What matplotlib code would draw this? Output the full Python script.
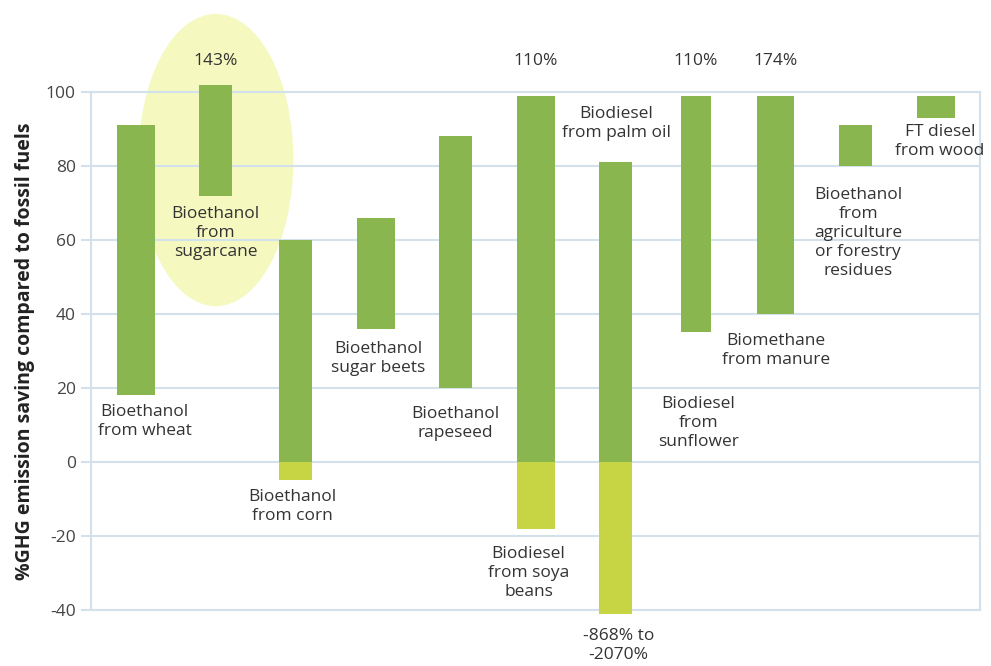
import matplotlib.pyplot as plt
from matplotlib.patches import Ellipse

plt.rcParams['font.family'] = ['Open Sans', 'DejaVu Sans']
plt.rcParams['axes.unicode_minus'] = False

# Ranges of GHG savings per pathway (green part above 0, yellow part below 0)
names = ["Bioethanol\nfrom wheat", "Bioethanol\nfrom\nsugarcane", "Bioethanol\nfrom corn",
         "Bioethanol\nsugar beets", "Bioethanol\nrapeseed", "Biodiesel\nfrom soya\nbeans",
         "Biodiesel\nfrom palm oil", "Biodiesel\nfrom\nsunflower", "Biomethane\nfrom manure",
         "Bioethanol\nfrom\nagriculture\nor forestry\nresidues", "FT diesel\nfrom wood"]
low = [18, 72, 0, 36, 20, 0, 0, 35, 40, 80, 93]
high = [91, 102, 60, 66, 88, 99, 81, 99, 99, 91, 99]
neg_low = [0, 0, -5, 0, 0, -18, -41, 0, 0, 0, 0]
widths = [0.47, 0.41, 0.41, 0.47, 0.41, 0.47, 0.41, 0.38, 0.46, 0.41, 0.47]

# values going past the chart edges
top_notes = {1: "143%", 5: "110%", 7: "110%", 8: "174%"}
bottom_note = (6, "-868% to\n-2070%")

# label anchor points (x, y) in data units
label_pos = [(0.11, 11), (1.0, 62), (1.96, -12), (3.03, 28), (3.99, 10.5), (4.91, -30),
             (6.01, 91.6), (7.03, 10.5), (8.0, 30), (9.03, 62), (10.05, 86.5)]

green = '#8ab64f'
yellow = '#c7d444'
grid_c = '#d3e1ec'
txt_c = '#333333'

fig = plt.figure(figsize=(9.91, 6.66), dpi=100)
ax = fig.add_axes([0.0918, 0.0841, 0.897, 0.7778])

x = list(range(len(names)))

ax.add_patch(Ellipse((1.0, 81.6), 1.94, 79, facecolor='#f5f9c0', edgecolor='none',
                     clip_on=False, zorder=0))

bars = ax.bar(x, [h - l for h, l in zip(high, low)], bottom=low, width=widths, color=green, zorder=3)
negs = ax.bar(x, [-n for n in neg_low], bottom=neg_low, width=widths, color=yellow, zorder=3)
for b in list(bars) + list(negs):
    b.set_clip_on(False)

for (lx, ly), name in zip(label_pos, names):
    ax.text(lx, ly, name, ha='center', va='center', fontsize=12.5, color=txt_c,
            linespacing=1.25, zorder=4)
for i, t in top_notes.items():
    ax.text(i, 108.4, t, ha='center', va='center', fontsize=12.5, color=txt_c, clip_on=False)
ax.text(bottom_note[0] + 0.03, -49.7, bottom_note[1], ha='center', va='center',
        fontsize=12.5, color=txt_c, linespacing=1.25, clip_on=False)

ax.set_xlim(-0.56, 10.55)
ax.set_ylim(-40, 100)
ax.set_yticks(range(-40, 101, 20))
ax.set_xticks([])
ax.yaxis.grid(True, color=grid_c, linewidth=1.5, zorder=1)
ax.set_axisbelow(True)
for s in ax.spines.values():
    s.set_color(grid_c)
    s.set_linewidth(1.5)
ax.tick_params(axis='y', length=7, width=1.5, color=grid_c, labelsize=12.5,
               labelcolor='#444444', pad=4)
ax.set_ylabel("%GHG emission saving compared to fossil fuels", fontsize=14,
              fontweight='bold', color='#222222', labelpad=8)

fig.savefig('out.png', dpi=100)
